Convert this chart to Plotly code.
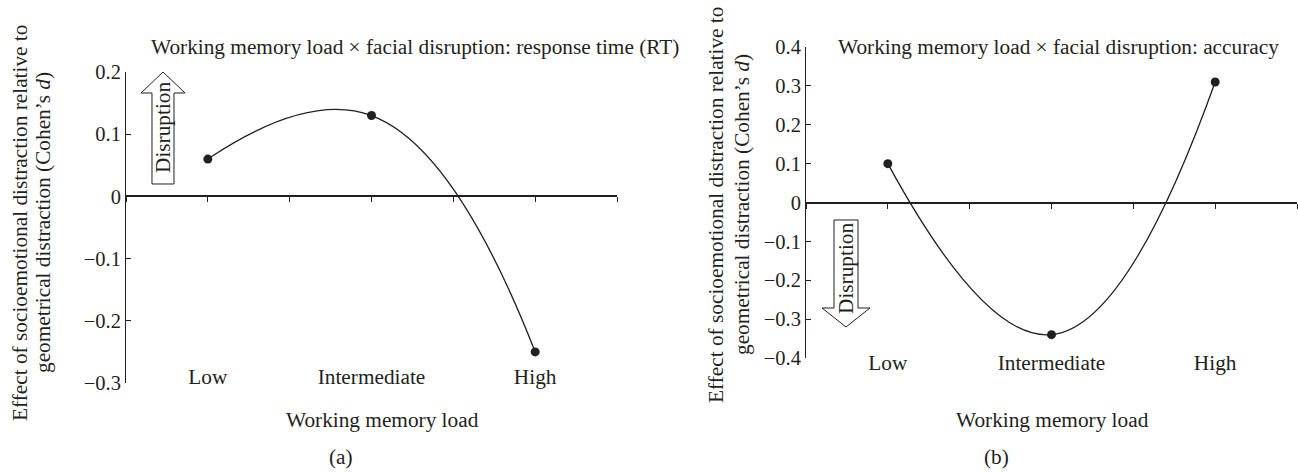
import plotly.graph_objects as go

# ---------------- data ----------------
load_levels = ["Low", "Intermediate", "High"]
load_pos = [1, 3, 5]
rt_effect = [0.06, 0.13, -0.25]
acc_effect = [0.10, -0.34, 0.31]
tick_pos = [0, 1, 2, 3, 4, 5, 6]
tick_text = ["", "Low", "", "Intermediate", "", "High", ""]
rt_range = [-0.3, 0.2]
acc_range = [-0.4, 0.4]
title_a = "Working memory load × facial disruption: response time (RT)"
title_b = "Working memory load × facial disruption: accuracy"
ytitle_1 = "Effect of socioemotional distraction relative to"
ytitle_2 = "geometrical distraction (Cohen’s <i>d</i>)"
xtitle = "Working memory load"

W, H = 1298, 472
FONT = "Liberation Serif"
FS = 21.3
FS_TICK = 20.5
INK = "#231f20"


def fx(px):
    return px / W


def fy(py):
    return 1 - py / H


dom_a_x = [fx(126), fx(617)]
dom_a_y = [fy(383), fy(72)]
dom_b_x = [fx(806), fx(1297)]
dom_b_y = [fy(358), fy(47)]


def zero_pos(dom, rng):
    return dom[0] + (0 - rng[0]) / (rng[1] - rng[0]) * (dom[1] - dom[0])


fig = go.Figure()
for xa, ya, vals in [("x", "y", rt_effect), ("x2", "y2", acc_effect)]:
    fig.add_trace(go.Scatter(
        x=load_pos, y=vals, xaxis=xa, yaxis=ya,
        mode="lines+markers",
        line=dict(shape="spline", smoothing=1.3, color=INK, width=1.3),
        marker=dict(size=9, color=INK),
        showlegend=False, hoverinfo="skip", cliponaxis=False,
    ))

xcommon = dict(range=[0, 6], tickvals=tick_pos, ticktext=tick_text,
               showline=True, linewidth=2, linecolor=INK, ticks="outside",
               ticklen=5, tickwidth=1, tickcolor=INK, showgrid=False,
               zeroline=False, anchor="free", automargin=False,
               tickfont=dict(family=FONT, size=FS, color=INK))
ycommon = dict(dtick=0.1, showline=True, linewidth=1, linecolor=INK,
               ticks="inside", ticklen=5, tickwidth=1, tickcolor=INK,
               showgrid=False, zeroline=False, automargin=False,
               tickfont=dict(family=FONT, size=FS_TICK, color=INK))

fig.update_layout(
    width=W, height=H,
    margin=dict(l=0, r=0, t=0, b=0, pad=0, autoexpand=False),
    paper_bgcolor="white", plot_bgcolor="white",
    font=dict(family=FONT, size=FS, color=INK),
    xaxis=dict(domain=dom_a_x, position=zero_pos(dom_a_y, rt_range),
               ticklabelstandoff=156, **xcommon),
    yaxis=dict(domain=dom_a_y, range=rt_range, anchor="x", **ycommon),
    xaxis2=dict(domain=dom_b_x, position=zero_pos(dom_b_y, acc_range),
                ticklabelstandoff=136, **xcommon),
    yaxis2=dict(domain=dom_b_y, range=acc_range, anchor="x2", **ycommon),
)


def path(pts):
    s = "M " + " L ".join(f"{fx(a):.5f},{fy(b):.5f}" for a, b in pts) + " Z"
    return s


arrow_up = [(152, 184), (174, 184), (174, 93), (185, 93), (163, 72), (141, 93), (152, 93)]
arrow_down = [(834, 220), (858, 220), (858, 308), (870, 308), (846, 327), (822, 308), (834, 308)]
for pts in (arrow_up, arrow_down):
    fig.add_shape(type="path", path=path(pts), xref="paper", yref="paper",
                  line=dict(color=INK, width=1), fillcolor="white", layer="above")

ann = []


def add_text(text, x, y, angle=0, xanchor="center", size=FS):
    ann.append(dict(text=text, x=fx(x), y=fy(y), xref="paper", yref="paper",
                    showarrow=False, textangle=angle, xanchor=xanchor,
                    yanchor="middle", borderpad=0,
                    font=dict(family=FONT, size=size, color=INK)))


add_text("Disruption", 163, 128, -90)
add_text("Disruption", 846, 269, -90)
add_text(title_a, 150, 47, 0, "left")
add_text(title_b, 837, 47, 0, "left")
add_text(ytitle_1, 20, 223, -90)
add_text(ytitle_2, 43, 223, -90)
add_text(ytitle_1, 716, 205, -90)
add_text(ytitle_2, 742, 205, -90)
add_text(xtitle, 382, 420)
add_text(xtitle, 1052, 420)
add_text("(a)", 341, 457)
add_text("(b)", 996, 457)
fig.update_layout(annotations=ann)

fig.write_html(
    "out.html",
    config={"displayModeBar": False},
    post_script=(
        "document.documentElement.style.margin='0';"
        "document.body.style.margin='0';document.body.style.overflow='hidden';"
        "var d=document.getElementById('{plot_id}');"
        "d.style.position='fixed';d.style.top='0px';d.style.left='0px';"
    ),
)
